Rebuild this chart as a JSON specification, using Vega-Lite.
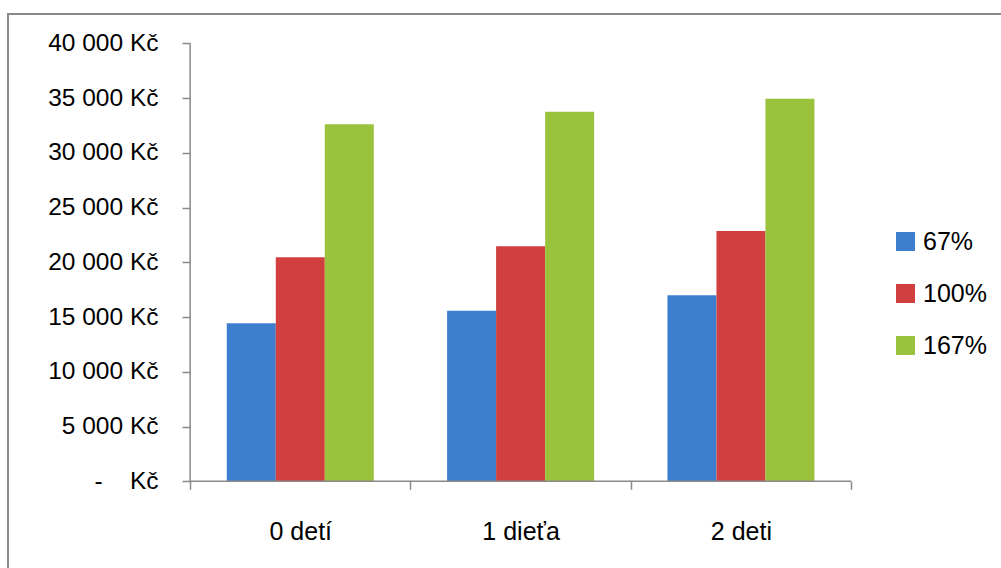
{
  "$schema": "https://vega.github.io/schema/vega-lite/v6.json",
  "autosize": {"type": "none"},
  "padding": {"left": 8, "top": 14, "right": 0, "bottom": 0},
  "width": 997,
  "height": 558,
  "background": "white",
  "config": {
    "view": {"stroke": "#8a8a8a", "strokeWidth": 2},
    "font": "Liberation Sans",
    "axis": {"domain": false, "grid": false, "tickColor": "#8a8a8a", "tickWidth": 1.5, "tickSize": 8, "labelFont": "Liberation Sans", "labelFontSize": 24.5, "labelColor": "#000000", "title": null}
  },
  "datasets": {
    "bars": [
      {"cat": "0 detí", "s": "67%", "v": 14430},
      {"cat": "0 detí", "s": "100%", "v": 20460},
      {"cat": "0 detí", "s": "167%", "v": 32600},
      {"cat": "1 dieťa", "s": "67%", "v": 15580},
      {"cat": "1 dieťa", "s": "100%", "v": 21460},
      {"cat": "1 dieťa", "s": "167%", "v": 33750},
      {"cat": "2 deti", "s": "67%", "v": 16990},
      {"cat": "2 deti", "s": "100%", "v": 22860},
      {"cat": "2 deti", "s": "167%", "v": 34940}
    ],
    "cats": [{"cat": "0 detí"}, {"cat": "1 dieťa"}, {"cat": "2 deti"}],
    "first": [{"cat": "0 detí"}]
  },
  "encoding": {
    "x": {
      "field": "cat", "type": "nominal",
      "scale": {"domain": ["0 detí", "1 dieťa", "2 deti"], "paddingInner": 0, "paddingOuter": 0.7625, "align": 0.542},
      "axis": {"orient": "bottom", "offset": -90.7, "tickBand": "extent", "labelAngle": 0, "labelPadding": 30, "labelFontSize": 25}
    }
  },
  "layer": [
    {
      "data": {"name": "bars"},
      "mark": {"type": "bar"},
      "encoding": {
        "xOffset": {"field": "s", "type": "nominal", "scale": {"domain": ["67%", "100%", "167%"], "paddingInner": 0, "paddingOuter": 0.748}},
        "y": {
          "field": "v", "type": "quantitative",
          "scale": {"domain": [-8283, 42676], "nice": false, "zero": false},
          "axis": {"orient": "left", "offset": -182, "values": [0, 5000, 10000, 15000, 20000, 25000, 30000, 35000, 40000], "labelPadding": 24,
            "labelExpr": "datum.value === 0 ? '-\u00a0\u00a0\u00a0\u00a0Kč' : replace(format(datum.value, ','), /,/g, '\u00a0') + '\u00a0Kč'"}
        },
        "y2": {"datum": 0},
        "color": {
          "field": "s", "type": "nominal",
          "scale": {"domain": ["67%", "100%", "167%"], "range": ["#3e7ecf", "#d13f3f", "#9ac23c"]},
          "legend": {"orient": "none", "legendX": 885, "legendY": 215, "title": null, "symbolType": "square", "symbolSize": 361, "symbolStrokeWidth": 0, "labelFontSize": 25, "labelFont": "Liberation Sans", "labelColor": "#000000", "rowPadding": 26, "labelOffset": 5, "padding": 0}
        }
      }
    },
    {
      "data": {"name": "first"},
      "mark": {"type": "rule", "color": "#8a8a8a", "strokeWidth": 1.5},
      "encoding": {
        "x": {"field": "cat", "type": "nominal", "bandPosition": 0},
        "y": {"datum": 0},
        "y2": {"datum": 40000}
      }
    },
    {
      "data": {"name": "cats"},
      "mark": {"type": "tick", "color": "#8a8a8a", "thickness": 1.5, "size": 221, "opacity": 1},
      "encoding": {
        "y": {"datum": 0}
      }
    }
  ]
}
